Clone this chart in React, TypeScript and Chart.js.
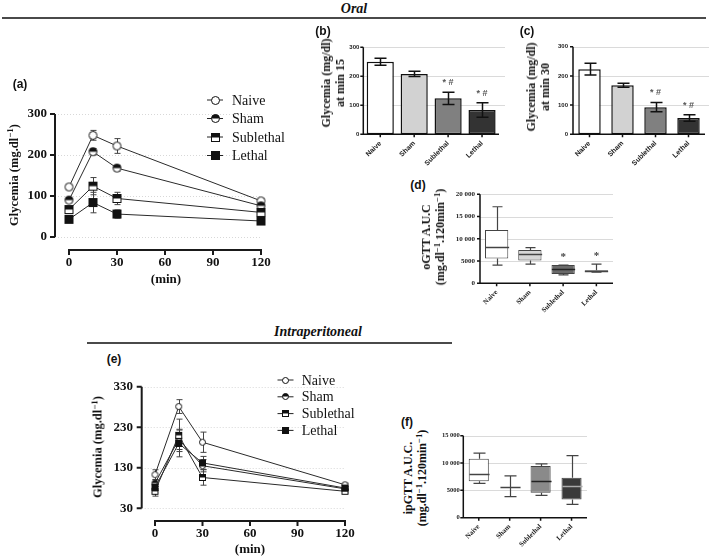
import React, { useEffect, useRef } from "react";
import { Chart, registerables } from "chart.js";

Chart.register(...registerables);

// ---------------- data ----------------
const GROUPS = ["Naive", "Sham", "Sublethal", "Lethal"];
const TIMES = [0, 15, 30, 120];
const TIME_TICKS = [0, 30, 60, 90, 120];

// (a) oral test
const ORAL_TICKS = [0, 100, 200, 300];
const oralNaive = [122, 248, 222, 88];
const oralNaiveErr = [4, 12, 18, 5];
const oralSham = [90, 208, 168, 76];
const oralShamErr = [4, 8, 7, 4];
const oralSublethal = [67, 124, 94, 60];
const oralSublethalErr = [5, 21, 15, 4];
const oralLethal = [43, 84, 56, 39];
const oralLethalErr = [4, 25, 10, 5];

// (b) minute 15
const BAR_TICKS = [0, 100, 200, 300];
const min15Mean = [250, 208, 124, 84];
const min15Err = [12, 9, 21, 25];
const min15Marks = ["", "", "* #", "* #"];
// (c) minute 30
const min30Mean = [223, 168, 93, 56];
const min30Err = [20, 7, 16, 11];
const min30Marks = ["", "", "* #", "* #"];

// (d) oGTT AUC
const OGTT_TICKS = [0, 5000, 10000, 15000, 20000];
const ogttMin = [4100, 4300, 1900, 2500];
const ogttQ1 = [5600, 5100, 2100, 2600];
const ogttMedian = [8200, 6600, 3200, 2750];
const ogttQ3 = [12000, 7500, 4100, 2950];
const ogttMax = [17200, 8000, 4100, 4300];
const ogttMarks = ["", "", "*", "*"];

// (e) intraperitoneal test
const IP_TICKS = [30, 130, 230, 330];
const ipNaive = [113, 281, 193, 88];
const ipNaiveErr = [12, 17, 25, 4];
const ipSham = [92, 200, 135, 78];
const ipShamErr = [8, 25, 15, 4];
const ipSublethal = [72, 210, 106, 72];
const ipSublethalErr = [12, 40, 19, 4];
const ipLethal = [82, 190, 142, 80];
const ipLethalErr = [8, 33, 16, 4];

// (f) ipGTT AUC
const IPGTT_TICKS = [0, 5000, 10000, 15000];
const ipgttMin = [6270, 3850, 4080, 2430];
const ipgttQ1 = [6650, 5600, 4570, 3350];
const ipgttMedian = [8060, 5600, 6680, 5850];
const ipgttQ3 = [10770, 5600, 9450, 7320];
const ipgttMax = [11830, 7640, 9840, 11370];

// ---------------- styling helpers ----------------
const SERIF = "'Liberation Serif', 'Times New Roman', serif";
const SANS = "'Liberation Sans', Arial, sans-serif";

type MarkerKind = "open-circle" | "half-circle" | "half-square" | "square";

function makeMarker(kind: MarkerKind, r: number): HTMLCanvasElement {
  const size = Math.ceil(2 * r + 2);
  const c = document.createElement("canvas");
  c.width = size;
  c.height = size;
  const g = c.getContext("2d")!;
  const cx = size / 2;
  const cy = size / 2;
  g.lineWidth = 1;
  g.strokeStyle = "#111";
  if (kind === "open-circle" || kind === "half-circle") {
    g.beginPath();
    g.arc(cx, cy, r - 0.5, 0, Math.PI * 2);
    g.fillStyle = "#fff";
    g.fill();
    if (kind === "half-circle") {
      g.beginPath();
      g.arc(cx, cy, r - 0.5, Math.PI, 2 * Math.PI);
      g.closePath();
      g.fillStyle = "#111";
      g.fill();
    }
    g.beginPath();
    g.arc(cx, cy, r - 0.5, 0, Math.PI * 2);
    g.stroke();
  } else {
    const s = 2 * r - 1;
    const x0 = cx - s / 2;
    const y0 = cy - s / 2;
    g.fillStyle = kind === "square" ? "#111" : "#fff";
    g.fillRect(x0, y0, s, s);
    if (kind === "half-square") {
      g.fillStyle = "#111";
      g.fillRect(x0, y0, s, s / 2);
    }
    g.strokeRect(x0, y0, s, s);
  }
  return c;
}

function fixedTicks(vals: number[]) {
  return (scale: any) => {
    scale.ticks = vals.map((v) => ({ value: v }));
  };
}

function drawErrors(chart: any, o: any) {
  const ctx = chart.ctx;
  const ys = chart.scales.y;
  ctx.save();
  ctx.strokeStyle = o.errColor;
  ctx.lineWidth = o.errWidth;
  o.errors.forEach((errs: number[], di: number) => {
    const meta = chart.getDatasetMeta(di);
    const ds = chart.data.datasets[di];
    meta.data.forEach((el: any, i: number) => {
      const e = errs[i];
      if (!e) return;
      const raw = ds.data[i];
      const v = typeof raw === "number" ? raw : raw.y;
      const x = Math.round(el.x) + 0.5;
      const yt = ys.getPixelForValue(v + e);
      const yb = ys.getPixelForValue(v - e);
      const h = o.capHalf;
      ctx.beginPath();
      ctx.moveTo(x, yt);
      ctx.lineTo(x, yb);
      ctx.moveTo(x - h, yt);
      ctx.lineTo(x + h, yt);
      ctx.moveTo(x - h, yb);
      ctx.lineTo(x + h, yb);
      ctx.stroke();
    });
  });
  ctx.restore();
}

function drawBox(chart: any, o: any) {
  const b = o.box;
  const ctx = chart.ctx;
  const ys = chart.scales.y;
  const meta = chart.getDatasetMeta(0);
  ctx.save();
  meta.data.forEach((el: any, i: number) => {
    const x = Math.round(el.x) + 0.5;
    const w = el.width;
    const q1 = ys.getPixelForValue(b.q1[i]);
    const q3 = ys.getPixelForValue(b.q3[i]);
    const mn = ys.getPixelForValue(b.min[i]);
    const mx = ys.getPixelForValue(b.max[i]);
    ctx.strokeStyle = b.whiskerColor;
    ctx.lineWidth = b.lineWidth;
    ctx.beginPath();
    ctx.moveTo(x, q3);
    ctx.lineTo(x, mx);
    ctx.moveTo(x - b.capHalf, mx);
    ctx.lineTo(x + b.capHalf, mx);
    ctx.moveTo(x, q1);
    ctx.lineTo(x, mn);
    ctx.moveTo(x - b.capHalf, mn);
    ctx.lineTo(x + b.capHalf, mn);
    ctx.stroke();
    const md = Math.round(ys.getPixelForValue(b.median[i])) + 0.5;
    ctx.strokeStyle = b.medianColors[i];
    ctx.lineWidth = b.medianWidth;
    ctx.beginPath();
    ctx.moveTo(x - w / 2, md);
    ctx.lineTo(x + w / 2, md);
    ctx.stroke();
  });
  ctx.restore();
}

function drawAxes(chart: any, o: any) {
  const a = o.axes;
  const ctx = chart.ctx;
  const ca = chart.chartArea;
  const xs = chart.scales.x;
  const ys = chart.scales.y;
  ctx.save();
  ctx.strokeStyle = a.color;
  ctx.lineWidth = a.width;
  const yTop = ys.getPixelForValue(ys.max);
  const yBot = ys.getPixelForValue(ys.min);
  const xl = ca.left;
  ctx.beginPath();
  ctx.moveTo(xl, yTop);
  ctx.lineTo(xl, yBot + (a.xOffset ? 0 : a.width / 2));
  ys.ticks.forEach((t: any) => {
    const y = ys.getPixelForValue(t.value);
    ctx.moveTo(xl - a.tick, y);
    ctx.lineTo(xl, y);
  });
  const yx = ca.bottom + (a.xOffset || 0);
  let x0: number;
  let x1: number;
  if (xs.type === "category") {
    x0 = ca.left - a.width / 2;
    x1 = ca.right;
  } else {
    x0 = xs.getPixelForValue(xs.ticks[0].value) - a.width / 2;
    x1 = xs.getPixelForValue(xs.ticks[xs.ticks.length - 1].value) + a.width / 2;
  }
  ctx.moveTo(x0, yx);
  ctx.lineTo(x1, yx);
  xs.ticks.forEach((t: any, i: number) => {
    const x = xs.type === "category" ? xs.getPixelForTick(i) : xs.getPixelForValue(t.value);
    ctx.moveTo(x, yx);
    ctx.lineTo(x, yx + a.xTick);
  });
  ctx.stroke();
  ctx.restore();
}

function drawMarks(chart: any, o: any) {
  const m = o.marks;
  const ctx = chart.ctx;
  const ys = chart.scales.y;
  const meta = chart.getDatasetMeta(0);
  ctx.save();
  ctx.font = m.font;
  ctx.fillStyle = m.color;
  ctx.textAlign = "center";
  ctx.textBaseline = "middle";
  meta.data.forEach((el: any, i: number) => {
    const t = m.texts[i];
    if (!t) return;
    const y = ys.getPixelForValue(m.tops[i]) - m.offset;
    ctx.fillText(t, el.x + (m.dx || 0), y);
  });
  ctx.restore();
}

function drawLegend(chart: any, o: any) {
  const L = o.legend;
  const ctx = chart.ctx;
  ctx.save();
  L.items.forEach((it: any, i: number) => {
    const y = L.y + i * L.dy;
    ctx.strokeStyle = "#222";
    ctx.lineWidth = 1;
    ctx.beginPath();
    ctx.moveTo(L.x - L.half, y);
    ctx.lineTo(L.x + L.half, y);
    ctx.stroke();
    ctx.drawImage(it.marker, Math.round(L.x - it.marker.width / 2), Math.round(y - it.marker.height / 2));
    ctx.fillStyle = "#111";
    ctx.font = L.font;
    ctx.textBaseline = "middle";
    ctx.textAlign = "left";
    ctx.fillText(it.label, L.textX, y + 1);
  });
  ctx.restore();
}

const prismPlugin = {
  id: "prism",
  beforeDatasetsDraw(chart: any) {
    const o = chart.options.plugins.prism;
    if (!o) return;
    const ctx = chart.ctx;
    const ca = chart.chartArea;
    const ys = chart.scales.y;
    if (o.grid) {
      ctx.save();
      ctx.strokeStyle = o.grid.color;
      ctx.lineWidth = o.grid.width;
      ctx.setLineDash(o.grid.dash || []);
      for (const v of o.grid.values) {
        const y = Math.round(ys.getPixelForValue(v)) + 0.5;
        ctx.beginPath();
        ctx.moveTo(ca.left, y);
        ctx.lineTo(ca.right + (o.grid.extend || 0), y);
        ctx.stroke();
      }
      ctx.restore();
    }
    if (o.errors && o.errorsBehind) drawErrors(chart, o);
  },
  afterDatasetsDraw(chart: any) {
    const o = chart.options.plugins.prism;
    if (!o) return;
    if (o.errors && !o.errorsBehind) drawErrors(chart, o);
    if (o.box) drawBox(chart, o);
    if (o.axes) drawAxes(chart, o);
    if (o.marks) drawMarks(chart, o);
    if (o.legend) drawLegend(chart, o);
  },
};

const NO_GRID = { display: false, drawTicks: false, tickLength: 0 };

// ---------------- chart configs ----------------
function lineConfig(p: any) {
  const kinds: MarkerKind[] = ["open-circle", "half-circle", "half-square", "square"];
  const markers = kinds.map((k) => makeMarker(k, p.markerR));
  const datasets = p.series.map((vals: number[], si: number) => ({
    label: GROUPS[si],
    data: TIMES.map((t, i) => ({ x: t, y: vals[i] })),
    borderColor: "#2a2a2a",
    borderWidth: 1,
    pointStyle: markers[si],
    pointRadius: p.markerR,
    pointHoverRadius: p.markerR,
    tension: 0,
    fill: false,
    clip: false,
  }));
  const tickFont = { family: SERIF, size: p.tickSize, weight: "bold" as const };
  return {
    type: "line",
    data: { datasets: [...datasets].reverse() },
    options: {
      responsive: false,
      animation: false,
      devicePixelRatio: 1,
      events: [],
      layout: { padding: p.padding },
      plugins: {
        legend: { display: false },
        tooltip: { enabled: false },
        prism: {
          grid: { values: p.yTicks, color: "#d8d8d8", width: 1, dash: [1, 2] },
          errors: [...p.errors].reverse(),
          errorsBehind: true,
          errColor: "#444",
          errWidth: 1,
          capHalf: 3,
          axes: { color: "#1a1a1a", width: 2, tick: 5, xTick: 5, xOffset: p.xOffset },
          legend: {
            x: p.legend.x,
            y: p.legend.y,
            dy: p.legend.dy,
            half: 8,
            textX: p.legend.textX,
            font: `${p.legend.size}px ${SERIF}`,
            items: GROUPS.map((g, i) => ({ label: g, marker: markers[i] })),
          },
        },
      },
      scales: {
        x: {
          type: "linear",
          min: p.xMin,
          max: 120,
          afterBuildTicks: fixedTicks(TIME_TICKS),
          afterFit: (s: any) => {
            s.height = p.xHeight;
          },
          grid: NO_GRID,
          border: { display: false },
          ticks: { font: tickFont, color: "#111", padding: p.xLabelPad, maxRotation: 0, autoSkip: false },
        },
        y: {
          type: "linear",
          min: p.yMin,
          max: p.yMax,
          afterBuildTicks: fixedTicks(p.yTicks),
          afterFit: (s: any) => {
            s.width = p.yWidth;
          },
          grid: NO_GRID,
          border: { display: false },
          ticks: { font: tickFont, color: "#111", padding: p.yLabelPad },
        },
      },
    },
    plugins: [prismPlugin],
  };
}

function barConfig(p: any) {
  return {
    type: "bar",
    data: {
      labels: GROUPS,
      datasets: [
        {
          data: p.values,
          backgroundColor: ["#ffffff", "#d2d2d2", "#808080", "#333333"],
          borderColor: "#111",
          borderWidth: 1.5,
          borderSkipped: false,
          categoryPercentage: p.catPct,
          barPercentage: 1,
        },
      ],
    },
    options: {
      responsive: false,
      animation: false,
      devicePixelRatio: 1,
      events: [],
      layout: { padding: p.padding },
      plugins: {
        legend: { display: false },
        tooltip: { enabled: false },
        prism: {
          grid: { values: [100, 200, 300], color: "#dadada", width: 1, extend: 6 },
          errors: [p.errors],
          errorsBehind: false,
          errColor: "#111",
          errWidth: 1.5,
          capHalf: p.capHalf,
          axes: { color: "#111", width: 1.5, tick: 3, xTick: 3, xOffset: 0 },
          marks: {
            texts: p.marks,
            tops: p.values.map((v: number, i: number) => v + p.errors[i]),
            font: `bold 9px ${SANS}`,
            color: "#555",
            offset: 9.5,
          },
        },
      },
      scales: {
        x: {
          type: "category",
          afterFit: (s: any) => {
            s.height = p.xHeight;
          },
          grid: NO_GRID,
          border: { display: false },
          ticks: {
            font: { family: SANS, size: 7, weight: "bold" },
            color: "#222",
            padding: 5,
            minRotation: 45,
            maxRotation: 45,
            autoSkip: false,
          },
        },
        y: {
          type: "linear",
          min: 0,
          max: 300,
          afterBuildTicks: fixedTicks(BAR_TICKS),
          afterFit: (s: any) => {
            s.width = p.yWidth;
          },
          grid: NO_GRID,
          border: { display: false },
          ticks: { font: { family: SANS, size: 6, weight: "bold" }, color: "#222", padding: p.yLabelPad },
        },
      },
    },
    plugins: [prismPlugin],
  };
}

function thousands(v: number) {
  return v >= 10000 ? `${Math.floor(v / 1000)} 000` : String(v);
}

function boxConfig(p: any) {
  return {
    type: "bar",
    data: {
      labels: GROUPS,
      datasets: [
        {
          data: p.q1.map((q: number, i: number) => [q, p.q3[i]]),
          backgroundColor: p.colors,
          borderColor: "#444",
          borderWidth: 1,
          borderSkipped: false,
          categoryPercentage: p.catPct,
          barPercentage: 1,
        },
      ],
    },
    options: {
      responsive: false,
      animation: false,
      devicePixelRatio: 1,
      events: [],
      layout: { padding: p.padding },
      plugins: {
        legend: { display: false },
        tooltip: { enabled: false },
        prism: {
          grid: { values: p.ticks.slice(1), color: "#dadada", width: 1, extend: 0 },
          box: {
            q1: p.q1,
            q3: p.q3,
            min: p.min,
            max: p.max,
            median: p.median,
            medianColors: p.medianColors,
            whiskerColor: "#444",
            lineWidth: 1.2,
            medianWidth: 1.5,
            capHalf: p.capHalf,
          },
          axes: { color: "#111", width: 1.5, tick: 3, xTick: 3, xOffset: 0 },
          marks: p.marks
            ? { texts: p.marks, tops: p.max, font: `bold 11px ${SERIF}`, color: "#444", offset: 8 }
            : undefined,
        },
      },
      scales: {
        x: {
          type: "category",
          afterFit: (s: any) => {
            s.height = p.xHeight;
          },
          grid: NO_GRID,
          border: { display: false },
          ticks: {
            font: { family: SERIF, size: 7, weight: "bold" },
            color: "#222",
            padding: 5,
            minRotation: 45,
            maxRotation: 45,
            autoSkip: false,
          },
        },
        y: {
          type: "linear",
          min: 0,
          max: p.ticks[p.ticks.length - 1],
          afterBuildTicks: fixedTicks(p.ticks),
          afterFit: (s: any) => {
            s.width = p.yWidth;
          },
          grid: NO_GRID,
          border: { display: false },
          ticks: {
            font: { family: SERIF, size: p.tickSize, weight: "bold" },
            color: "#222",
            padding: p.yLabelPad,
            callback: (v: any) => thousands(Number(v)),
          },
        },
      },
    },
    plugins: [prismPlugin],
  };
}

// ---------------- components ----------------
function ChartCanvas(props: { left: number; top: number; width: number; height: number; make: () => any }) {
  const ref = useRef<HTMLCanvasElement>(null);
  useEffect(() => {
    const chart = new Chart(ref.current as HTMLCanvasElement, props.make());
    return () => chart.destroy();
  }, []);
  return (
    <canvas
      ref={ref}
      width={props.width}
      height={props.height}
      style={{ position: "absolute", left: props.left, top: props.top, width: props.width, height: props.height }}
    />
  );
}

function Txt(props: { x: number; y: number; style?: any; children: any }) {
  return (
    <div
      style={{
        position: "absolute",
        left: props.x,
        top: props.y,
        transform: "translate(-50%, -50%)",
        whiteSpace: "nowrap",
        lineHeight: 1,
        ...props.style,
      }}
    >
      {props.children}
    </div>
  );
}

function VTxt(props: { x: number; y: number; style?: any; children: any }) {
  return (
    <div
      style={{
        position: "absolute",
        left: props.x,
        top: props.y,
        transform: "translate(-50%, -50%) rotate(-90deg)",
        whiteSpace: "nowrap",
        textAlign: "center",
        fontFamily: SERIF,
        fontWeight: "bold",
        color: "#111",
        ...props.style,
      }}
    >
      {props.children}
    </div>
  );
}

const Sup = (props: { children: any }) => (
  <sup style={{ fontSize: "0.72em", verticalAlign: "0.45em", lineHeight: 0 }}>{props.children}</sup>
);

const panelLabel = { fontFamily: SANS, fontWeight: "bold", fontSize: 12, color: "#111" };
const headerStyle = { fontFamily: SERIF, fontWeight: "bold", fontStyle: "italic", fontSize: 14, color: "#111" };
const minStyle = { fontFamily: SERIF, fontWeight: "bold", fontSize: 13, color: "#111" };

export default function App() {
  return (
    <div
      style={{
        position: "fixed",
        left: 0,
        top: 0,
        width: 709,
        height: 557,
        background: "#fff",
        overflow: "hidden",
      }}
    >
      <ChartCanvas
        left={0}
        top={90}
        width={300}
        height={200}
        make={() =>
          lineConfig({
            series: [oralNaive, oralSham, oralSublethal, oralLethal],
            errors: [oralNaiveErr, oralShamErr, oralSublethalErr, oralLethalErr],
            markerR: 4.5,
            yMin: 0,
            yMax: 300,
            yTicks: ORAL_TICKS,
            xMin: -8.75,
            padding: { left: 0, top: 24, right: 39, bottom: 0 },
            yWidth: 55,
            xHeight: 53,
            xOffset: 13,
            tickSize: 13,
            xLabelPad: 18,
            yLabelPad: 8,
            legend: { x: 215, y: 10, dy: 18.5, textX: 232, size: 14 },
          })
        }
      />
      <ChartCanvas
        left={300}
        top={35}
        width={205}
        height={140}
        make={() =>
          barConfig({
            values: min15Mean,
            errors: min15Err,
            marks: min15Marks,
            catPct: 0.8,
            capHalf: 6,
            padding: { left: 0, top: 12.3, right: 6, bottom: 0 },
            yWidth: 63.3,
            xHeight: 40.7,
            yLabelPad: 4,
          })
        }
      />
      <ChartCanvas
        left={520}
        top={35}
        width={189}
        height={140}
        make={() =>
          barConfig({
            values: min30Mean,
            errors: min30Err,
            marks: min30Marks,
            catPct: 0.68,
            capHalf: 6,
            padding: { left: 0, top: 11.7, right: 4, bottom: 0 },
            yWidth: 53,
            xHeight: 40.7,
            yLabelPad: 5,
          })
        }
      />
      <ChartCanvas
        left={440}
        top={180}
        width={185}
        height={140}
        make={() =>
          boxConfig({
            q1: ogttQ1,
            q3: ogttQ3,
            min: ogttMin,
            max: ogttMax,
            median: ogttMedian,
            marks: ogttMarks,
            colors: ["#ffffff", "#d6d6d6", "#6a6a6a", "#ffffff"],
            medianColors: ["#444", "#444", "#222", "#444"],
            ticks: OGTT_TICKS,
            catPct: 0.7,
            capHalf: 5,
            padding: { left: 0, top: 14.3, right: 12, bottom: 0 },
            yWidth: 40,
            xHeight: 36.7,
            yLabelPad: 5,
            tickSize: 7,
          })
        }
      />
      <ChartCanvas
        left={60}
        top={370}
        width={320}
        height={187}
        make={() =>
          lineConfig({
            series: [ipNaive, ipSham, ipSublethal, ipLethal],
            errors: [ipNaiveErr, ipShamErr, ipSublethalErr, ipLethalErr],
            markerR: 3.5,
            yMin: 30,
            yMax: 330,
            yTicks: IP_TICKS,
            xMin: -8.4,
            padding: { left: 0, top: 16.7, right: 35, bottom: 0 },
            yWidth: 81.7,
            xHeight: 48.7,
            xOffset: 12.7,
            tickSize: 13,
            xLabelPad: 18,
            yLabelPad: 8.7,
            legend: { x: 225.5, y: 10, dy: 16.8, textX: 241.7, size: 14 },
          })
        }
      />
      <ChartCanvas
        left={430}
        top={420}
        width={170}
        height={137}
        make={() =>
          boxConfig({
            q1: ipgttQ1,
            q3: ipgttQ3,
            min: ipgttMin,
            max: ipgttMax,
            median: ipgttMedian,
            marks: null,
            colors: ["#ffffff", "#ffffff", "#8a8a8a", "#3a3a3a"],
            medianColors: ["#444", "#444", "#222", "#aaaaaa"],
            ticks: IPGTT_TICKS,
            catPct: 0.65,
            capHalf: 6,
            padding: { left: 0, top: 15.7, right: 13, bottom: 0 },
            yWidth: 33.3,
            xHeight: 39.3,
            yLabelPad: 3.5,
            tickSize: 6.5,
          })
        }
      />

      {/* headers */}
      <Txt x={354} y={9} style={headerStyle}>
        Oral
      </Txt>
      <div style={{ position: "absolute", left: 2, top: 17, width: 704, height: 2, background: "#4a4a4a" }} />
      <Txt x={318} y={332} style={headerStyle}>
        Intraperitoneal
      </Txt>
      <div style={{ position: "absolute", left: 87, top: 342, width: 365, height: 2, background: "#4a4a4a" }} />

      {/* panel letters */}
      <Txt x={20} y={84} style={panelLabel}>
        (a)
      </Txt>
      <Txt x={323} y={31} style={panelLabel}>
        (b)
      </Txt>
      <Txt x={527} y={31} style={panelLabel}>
        (c)
      </Txt>
      <Txt x={418} y={185} style={panelLabel}>
        (d)
      </Txt>
      <Txt x={114} y={359} style={panelLabel}>
        (e)
      </Txt>
      <Txt x={407} y={422} style={panelLabel}>
        (f)
      </Txt>

      {/* axis titles */}
      <VTxt x={14} y={175} style={{ fontSize: 12.5 }}>
        Glycemia (mg.dl<Sup>−1</Sup>)
      </VTxt>
      <Txt x={166} y={278} style={minStyle}>
        (min)
      </Txt>
      <VTxt x={333} y={83} style={{ fontSize: 12, lineHeight: "14px" }}>
        Glycemia (mg/dl)
        <br />
        at min 15
      </VTxt>
      <VTxt x={538} y={87} style={{ fontSize: 12, lineHeight: "14px" }}>
        Glycemia (mg/dl)
        <br />
        at min 30
      </VTxt>
      <VTxt x={433} y={237} style={{ fontSize: 12, lineHeight: "14px" }}>
        oGTT A.U.C
        <br />
        (mg.dl<Sup>−1</Sup>.120min<Sup>−1</Sup>)
      </VTxt>
      <VTxt x={97.5} y={447} style={{ fontSize: 12.5 }}>
        Glycemia (mg.dl<Sup>−1</Sup>)
      </VTxt>
      <Txt x={250} y={548} style={minStyle}>
        (min)
      </Txt>
      <VTxt x={415} y={478} style={{ fontSize: 12, lineHeight: "14px" }}>
        ipGTT A.U.C.
        <br />
        (mg.dl<Sup>−1</Sup>.120min<Sup>−1</Sup>)
      </VTxt>
    </div>
  );
}
